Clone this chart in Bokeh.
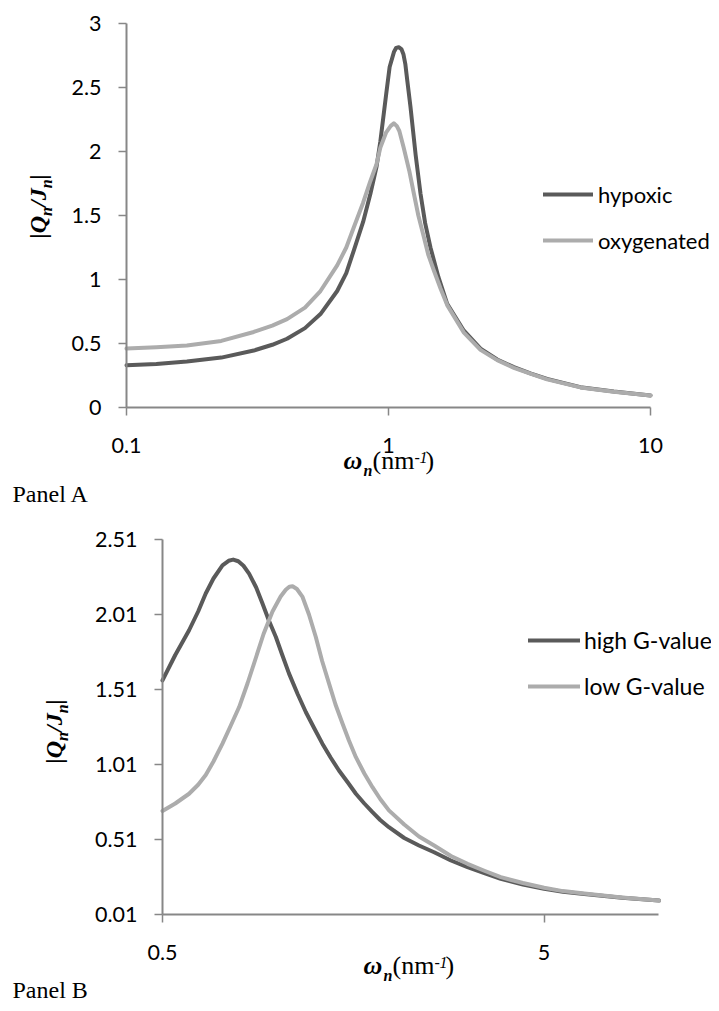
import math
from bokeh.plotting import figure
from bokeh.models import (Range1d, FixedTicker, CustomJSTickFormatter, Legend,
                          LegendItem, Label)
from bokeh.layouts import column
from bokeh.embed import file_html
from bokeh.resources import INLINE

# ---------------- Panel A data ----------------
a_hyp_x = [0.1, 0.13, 0.17, 0.23, 0.306, 0.36, 0.41, 0.48, 0.55, 0.637, 0.69,
           0.738, 0.80, 0.853, 0.90, 0.931, 0.98, 1.01, 1.05, 1.07, 1.094,
           1.12, 1.14, 1.16, 1.18, 1.213, 1.27, 1.325, 1.38, 1.446, 1.55,
           1.675, 1.94, 2.245, 2.6, 3.01, 3.5, 4.03, 5.4, 7.24, 10.0]
a_hyp_y = [0.33, 0.34, 0.36, 0.39, 0.445, 0.49, 0.537, 0.62, 0.73, 0.91, 1.05,
           1.23, 1.45, 1.67, 1.88, 2.08, 2.45, 2.66, 2.78, 2.81, 2.815,
           2.80, 2.76, 2.68, 2.55, 2.35, 1.97, 1.67, 1.44, 1.25, 1.02,
           0.81, 0.60, 0.46, 0.375, 0.315, 0.265, 0.224, 0.159, 0.125, 0.094]
a_oxy_x = [0.1, 0.13, 0.17, 0.23, 0.306, 0.36, 0.41, 0.48, 0.55, 0.637, 0.69,
           0.738, 0.80, 0.853, 0.90, 0.931, 0.98, 1.02, 1.048, 1.075, 1.10,
           1.143, 1.20, 1.25, 1.30, 1.365, 1.42, 1.49, 1.58, 1.675, 1.94,
           2.245, 2.6, 3.01, 3.5, 4.03, 5.4, 7.24, 10.0]
a_oxy_y = [0.46, 0.47, 0.484, 0.52, 0.59, 0.64, 0.69, 0.78, 0.91, 1.11, 1.25,
           1.41, 1.60, 1.77, 1.90, 2.03, 2.15, 2.20, 2.22, 2.20, 2.16,
           2.03, 1.85, 1.67, 1.50, 1.33, 1.19, 1.07, 0.93, 0.80, 0.585,
           0.45, 0.37, 0.31, 0.262, 0.22, 0.157, 0.123, 0.094]
a_x_ticks = [0.1, 1, 10]
a_y_ticks = [0, 0.5, 1, 1.5, 2, 2.5, 3]
a_names = ["hypoxic", "oxygenated"]

# ---------------- Panel B data ----------------
b_high_x = [0.5, 0.54, 0.587, 0.62, 0.649, 0.68, 0.718, 0.745, 0.766, 0.79,
            0.815, 0.843, 0.88, 0.914, 0.95, 0.991, 1.03, 1.073, 1.13, 1.187,
            1.25, 1.312, 1.38, 1.45, 1.53, 1.606, 1.69, 1.775, 1.86, 1.96,
            2.15, 2.35, 2.575, 2.85, 3.15, 3.5, 3.85, 4.4, 5.0, 5.6, 6.37,
            8.0, 10.0]
b_high_y = [1.571, 1.74, 1.905, 2.03, 2.15, 2.25, 2.338, 2.368, 2.376, 2.365,
            2.335, 2.283, 2.19, 2.083, 1.97, 1.86, 1.74, 1.616, 1.48, 1.36,
            1.25, 1.149, 1.055, 0.97, 0.89, 0.815, 0.75, 0.692, 0.64, 0.592,
            0.52, 0.47, 0.425, 0.37, 0.326, 0.285, 0.248, 0.21, 0.181, 0.162,
            0.146, 0.122, 0.103]
b_low_x = [0.5, 0.54, 0.587, 0.62, 0.649, 0.68, 0.718, 0.755, 0.794, 0.835,
           0.878, 0.92, 0.971, 1.02, 1.052, 1.075, 1.096, 1.125, 1.164, 1.21,
           1.261, 1.31, 1.366, 1.42, 1.482, 1.54, 1.606, 1.69, 1.775, 1.86,
           1.96, 2.15, 2.35, 2.575, 2.85, 3.15, 3.5, 3.85, 4.4, 5.0, 5.6,
           6.37, 8.0, 10.0]
b_low_y = [0.70, 0.75, 0.815, 0.875, 0.94, 1.03, 1.149, 1.27, 1.393, 1.55,
           1.72, 1.88, 2.03, 2.13, 2.175, 2.195, 2.198, 2.18, 2.127, 2.01,
           1.86, 1.70, 1.549, 1.41, 1.282, 1.17, 1.059, 0.95, 0.859, 0.78,
           0.704, 0.61, 0.53, 0.47, 0.40, 0.348, 0.30, 0.259, 0.22, 0.188,
           0.166, 0.150, 0.123, 0.103]
b_x_ticks = [0.5, 5]
b_y_ticks = [0.01, 0.51, 1.01, 1.51, 2.01, 2.51]
b_names = ["high G-value", "low G-value"]

DARK = "#5a5a5a"
LIGHT = "#acacac"
AXIS = "#878787"
TICKFONT = "Lato"
SERIF = "Liberation Serif"
OX = 0           # page x of the canvas' left edge (as rendered)
W = 711          # canvas width
KB = 0.38        # baseline correction (fraction of font size)


def make_fig(top_page, height, px_x0, x0, px_per_decade, px_y0, y0, px_per_unit,
             xb, yb, xt, yt):
    """Frame fills the whole canvas; axes are fixed inside it."""
    bottom_page = top_page + height
    lx_lo = math.log10(x0) + (OX - px_x0) / px_per_decade
    lx_hi = math.log10(x0) + (OX + W - px_x0) / px_per_decade
    y_hi = y0 + (px_y0 - top_page) / px_per_unit
    y_lo = y0 - (bottom_page - px_y0) / px_per_unit
    p = figure(width=W, height=height, x_axis_type="log",
               x_range=Range1d(10 ** lx_lo, 10 ** lx_hi),
               y_range=Range1d(y_lo, y_hi),
               output_backend="svg", toolbar_location=None,
               min_border=0, min_border_left=0, min_border_right=0,
               min_border_top=0, min_border_bottom=0)
    p.grid.visible = False
    p.outline_line_color = None
    p.background_fill_color = "white"
    p.border_fill_color = "white"
    p.xaxis.ticker = FixedTicker(ticks=xt, minor_ticks=[])
    p.yaxis.ticker = FixedTicker(ticks=yt, minor_ticks=[])
    p.xaxis.formatter = CustomJSTickFormatter(code="return tick.toString();")
    p.yaxis.formatter = CustomJSTickFormatter(code="return tick.toString();")
    p.xaxis.fixed_location = yb[0]
    p.yaxis.fixed_location = xb[0]
    p.xaxis.bounds = xb
    p.yaxis.bounds = yb
    for ax in (p.xaxis, p.yaxis):
        ax.axis_line_color = AXIS
        ax.axis_line_width = 2
        ax.major_tick_line_color = AXIS
        ax.major_tick_line_width = 1.5
        ax.major_tick_in = 0
        ax.major_tick_out = 8
        ax.minor_tick_line_color = None
        ax.major_label_text_font = TICKFONT
        ax.major_label_text_font_size = "21.5px"
        ax.major_label_text_color = "black"
    p.xaxis.major_label_standoff = 22
    p.yaxis.major_label_standoff = 17
    return p, bottom_page


def lab(p, bottom_page, text, page_x, page_y, size, style="normal", angle=0.0):
    if angle == 0.0:
        page_y -= KB * size
    else:
        page_x -= KB * size
    p.add_layout(Label(x=page_x - OX, y=bottom_page - page_y,
                       x_units="screen", y_units="screen",
                       text=text, text_font=SERIF,
                       text_font_size=f"{size}px", text_font_style=style,
                       text_color="black", angle=angle,
                       text_align="left", text_baseline="alphabetic"))


def ylabel(p, bp, x, y):
    a = math.pi / 2
    lab(p, bp, "|Q", x, y, 24, "bold italic", a)
    lab(p, bp, "n", x + 5, y - 22.6, 16, "bold italic", a)
    lab(p, bp, "/J", x, y - 31.5, 24, "bold italic", a)
    lab(p, bp, "n", x + 5, y - 50.2, 16, "bold italic", a)
    lab(p, bp, "|", x, y - 59.1, 24, "bold italic", a)


def xlabel(p, bp, x, y):
    lab(p, bp, "\u03c9", x, y, 26, "bold italic")
    lab(p, bp, "n", x + 20, y + 6, 16, "bold italic")
    lab(p, bp, "(nm", x + 29, y, 26, "normal")
    lab(p, bp, "-", x + 71, y - 7, 16, "normal")
    lab(p, bp, "1", x + 76, y - 7, 16, "italic")
    lab(p, bp, ")", x + 82, y, 26, "normal")


def add_legend(p, bp, items, left_page, bottom_leg_page, gw, standoff, fs):
    leg = Legend(items=items, location=(left_page - OX, bp - bottom_leg_page),
                 orientation="vertical",
                 border_line_color=None, background_fill_alpha=0,
                 padding=0, margin=0, spacing=16, glyph_width=gw,
                 glyph_height=30, label_height=30, label_standoff=standoff,
                 label_text_font=TICKFONT, label_text_font_size=fs,
                 label_text_color="black")
    p.add_layout(leg)


# ---------------- Figure A ----------------
pa, bpa = make_fig(0, 511, 126, 0.1, 262, 407, 0, 128,
                   (0.1, 10), (0, 3), a_x_ticks, a_y_ticks)
ra1 = pa.line(a_hyp_x, a_hyp_y, line_color=DARK, line_width=4,
              line_cap="round", line_join="round")
ra2 = pa.line(a_oxy_x, a_oxy_y, line_color=LIGHT, line_width=4,
              line_cap="round", line_join="round")
add_legend(pa, bpa, [LegendItem(label=a_names[0], renderers=[ra1]),
                     LegendItem(label=a_names[1], renderers=[ra2])],
           543, 255, 50, 5, "22px")
ylabel(pa, bpa, 47, 238)
xlabel(pa, bpa, 343, 470)
lab(pa, bpa, "Panel A", 12, 503, 24, "normal")

# ---------------- Figure B ----------------
pb, bpb = make_fig(511, 492, 162, 0.5, 381.6, 914, 0.01, 150,
                   (0.5, 10), (0.01, 2.51), b_x_ticks, b_y_ticks)
rb1 = pb.line(b_high_x, b_high_y, line_color=DARK, line_width=4,
              line_cap="round", line_join="round")
rb2 = pb.line(b_low_x, b_low_y, line_color=LIGHT, line_width=4,
              line_cap="round", line_join="round")
add_legend(pb, bpb, [LegendItem(label=b_names[0], renderers=[rb1]),
                     LegendItem(label=b_names[1], renderers=[rb2])],
           528, 701, 52, 4, "23px")
ylabel(pb, bpb, 63, 763)
xlabel(pb, bpb, 363, 975)
lab(pb, bpb, "Panel B", 12, 999, 24, "normal")

layout = column(pa, pb)
open("out.html", "w").write(file_html(layout, INLINE))
